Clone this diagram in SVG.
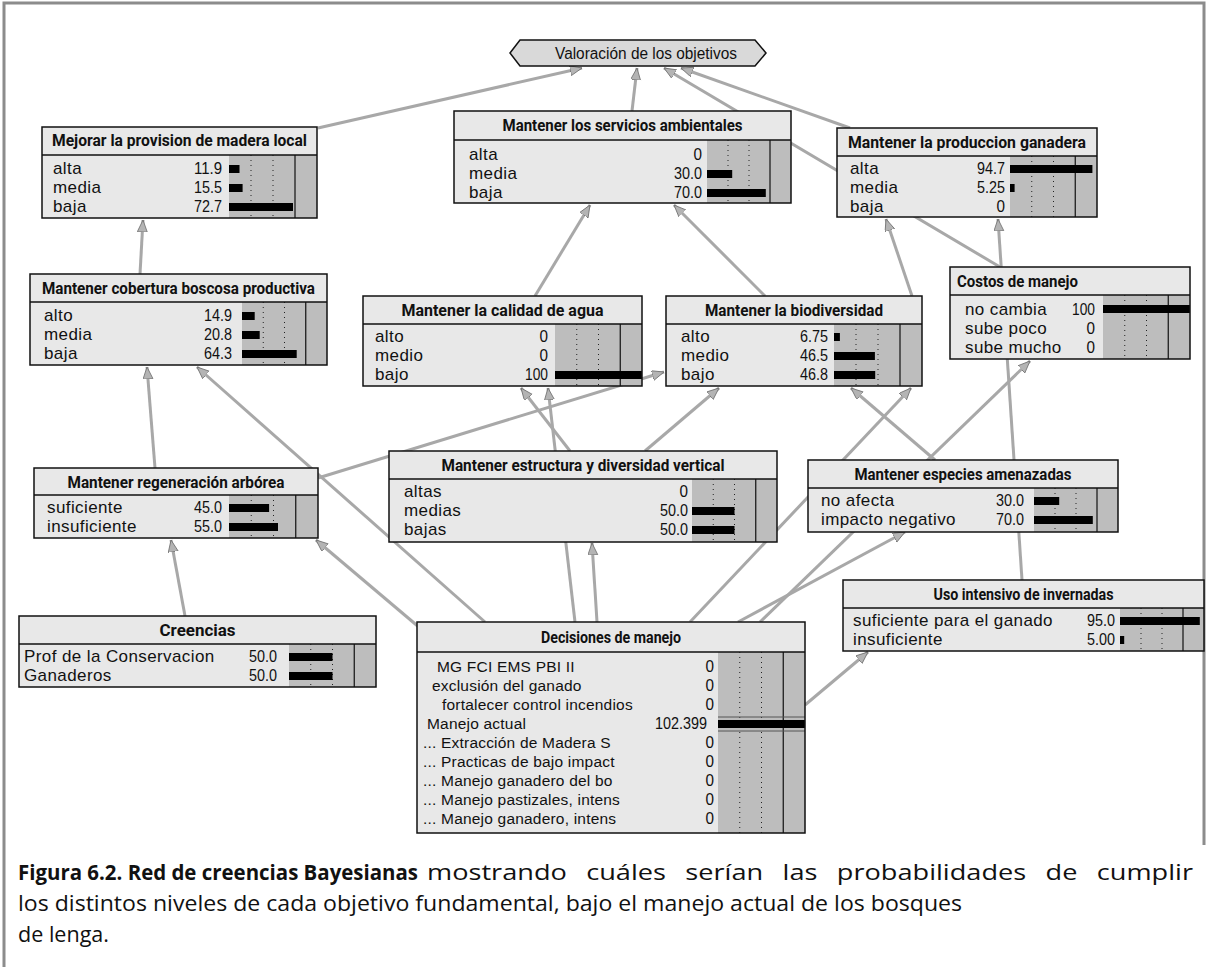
<svg xmlns="http://www.w3.org/2000/svg" width="1208" height="967" viewBox="0 0 1208 967">
<style>
  .frame{stroke:#8c8c8c;stroke-width:3;fill:none}
  .box{fill:#e8e8e8}
  .out{fill:none;stroke:#111;stroke-width:1.5}
  .tl{stroke:#111;stroke-width:1.5}
  .bg{fill:#bdbdbd}
  .dot{stroke:#222;stroke-width:1;stroke-dasharray:1 4}
  .sep{stroke:#111;stroke-width:1.2}
  .bar{fill:#000}
  .ttl{font-family:Roboto,"Liberation Sans",sans-serif;font-weight:bold;font-size:16px;text-anchor:middle;fill:#111}
  .lab{font-family:"Liberation Sans",Arial,sans-serif;font-size:17px;letter-spacing:0.4px;fill:#111}
  .lab2{font-family:"Liberation Sans",Arial,sans-serif;font-size:15.5px;letter-spacing:0.2px;fill:#111}
  .num{font-family:"Liberation Sans",sans-serif;font-size:17px;text-anchor:end;fill:#111}
  .edge{stroke:#a8a8a8;stroke-width:3;fill:none;marker-end:url(#ah)}
  .cap{font-family:"Open Sans","Noto Sans",sans-serif;font-size:22px;fill:#111}
</style>
<defs>
  <marker id="ah" markerUnits="userSpaceOnUse" markerWidth="14" markerHeight="12" refX="12" refY="5" orient="auto">
    <path d="M0,0 L12,5 L0,10 z" fill="#b4b4b4" stroke="#6e6e6e" stroke-width="0.8"/>
  </marker>
</defs>
<rect width="1208" height="967" fill="#fff"/>
<!-- outer frame -->
<path class="frame" d="M4,967 V3 H1204 V845"/>

<!-- connectors -->
<g id="connectors">
  <line class="edge" x1="318" y1="128" x2="582" y2="68"/>
  <line class="edge" x1="632" y1="111" x2="637" y2="68"/>
  <line class="edge" x1="850" y1="128" x2="681" y2="68"/>
  <line class="edge" x1="1000" y1="267" x2="664" y2="68"/>
  <line class="edge" x1="535" y1="296" x2="590" y2="205"/>
  <line class="edge" x1="765" y1="296" x2="674" y2="205"/>
  <line class="edge" x1="140" y1="274" x2="143" y2="220"/>
  <line class="edge" x1="1022" y1="580" x2="998" y2="219"/>
  <line class="edge" x1="912" y1="296" x2="886" y2="219"/>
  <line class="edge" x1="155" y1="468" x2="147" y2="367"/>
  <line class="edge" x1="485" y1="622" x2="197" y2="367"/>
  <line class="edge" x1="318" y1="478" x2="664" y2="372"/>
  <line class="edge" x1="185" y1="616" x2="171" y2="540"/>
  <line class="edge" x1="420" y1="628" x2="316" y2="540"/>
  <line class="edge" x1="570" y1="451" x2="521" y2="388"/>
  <line class="edge" x1="575" y1="622" x2="548" y2="388"/>
  <line class="edge" x1="597" y1="622" x2="592" y2="543"/>
  <line class="edge" x1="645" y1="451" x2="719" y2="388"/>
  <line class="edge" x1="690" y1="622" x2="911" y2="388"/>
  <line class="edge" x1="935" y1="460" x2="851" y2="388"/>
  <line class="edge" x1="760" y1="622" x2="1030" y2="361"/>
  <line class="edge" x1="738" y1="622" x2="905" y2="532"/>
  <line class="edge" x1="805" y1="705" x2="868" y2="652"/>
</g>

<!-- utility node -->
<g id="valoracion">
  <polygon points="510,53 520,40 755,40 766,53 755,66 520,66" fill="#d9d9d9" stroke="#111" stroke-width="1.5"/>
  <text x="646" y="59" font-family="Liberation Sans, sans-serif" font-size="16" text-anchor="middle" textLength="182" lengthAdjust="spacingAndGlyphs" fill="#111">Valoración de los objetivos</text>
</g>

<g id="mejorar" transform="translate(42,127)">
  <rect class="box" width="275" height="91"/>
  <rect class="bg" x="187" y="28" width="88" height="63"/>
  <line class="dot" x1="209" y1="28" x2="209" y2="91"/>
  <line class="dot" x1="231" y1="28" x2="231" y2="91"/>
  <line class="sep" x1="253" y1="28" x2="253" y2="91"/>
  <line class="tl" x1="0" y1="28" x2="275" y2="28"/>
  <text class="ttl" x="137.5" y="19" textLength="255" lengthAdjust="spacingAndGlyphs">Mejorar la provision de madera local</text>
  <text class="lab" x="11" y="47">alta</text>
  <text class="lab" x="11" y="66">media</text>
  <text class="lab" x="11" y="85">baja</text>
  <text class="num" x="180" y="47" textLength="28" lengthAdjust="spacingAndGlyphs">11.9</text>
  <text class="num" x="180" y="66" textLength="28" lengthAdjust="spacingAndGlyphs">15.5</text>
  <text class="num" x="180" y="85" textLength="28" lengthAdjust="spacingAndGlyphs">72.7</text>
  <rect class="bar" x="187" y="38" width="10.5" height="8"/>
  <rect class="bar" x="187" y="57" width="13.6" height="8"/>
  <rect class="bar" x="187" y="76" width="64" height="8"/>
  <rect class="out" width="275" height="91"/>
</g>

<g id="servicios" transform="translate(454,111)">
  <rect class="box" width="337" height="92"/>
  <rect class="bg" x="253" y="29" width="84" height="63"/>
  <line class="dot" x1="274" y1="29" x2="274" y2="92"/>
  <line class="dot" x1="295" y1="29" x2="295" y2="92"/>
  <line class="sep" x1="316" y1="29" x2="316" y2="92"/>
  <line class="tl" x1="0" y1="29" x2="337" y2="29"/>
  <text class="ttl" x="168.5" y="20" textLength="240" lengthAdjust="spacingAndGlyphs">Mantener los servicios ambientales</text>
  <text class="lab" x="15" y="49">alta</text>
  <text class="lab" x="15" y="68">media</text>
  <text class="lab" x="15" y="87">baja</text>
  <text class="num" x="248" y="49" textLength="8.5" lengthAdjust="spacingAndGlyphs">0</text>
  <text class="num" x="248" y="68" textLength="28" lengthAdjust="spacingAndGlyphs">30.0</text>
  <text class="num" x="248" y="87" textLength="28" lengthAdjust="spacingAndGlyphs">70.0</text>
  <rect class="bar" x="253" y="59" width="25.2" height="8"/>
  <rect class="bar" x="253" y="78" width="58.8" height="8"/>
  <rect class="out" width="337" height="92"/>
</g>

<g id="produccion" transform="translate(837,128)">
  <rect class="box" width="260" height="89"/>
  <rect class="bg" x="173" y="28" width="87" height="61"/>
  <line class="dot" x1="194.75" y1="28" x2="194.75" y2="89"/>
  <line class="dot" x1="216.5" y1="28" x2="216.5" y2="89"/>
  <line class="sep" x1="238.25" y1="28" x2="238.25" y2="89"/>
  <line class="tl" x1="0" y1="28" x2="260" y2="28"/>
  <text class="ttl" x="130" y="20" textLength="238" lengthAdjust="spacingAndGlyphs">Mantener la produccion ganadera</text>
  <text class="lab" x="13" y="46">alta</text>
  <text class="lab" x="13" y="65">media</text>
  <text class="lab" x="13" y="84">baja</text>
  <text class="num" x="168" y="46" textLength="28" lengthAdjust="spacingAndGlyphs">94.7</text>
  <text class="num" x="168" y="65" textLength="28" lengthAdjust="spacingAndGlyphs">5.25</text>
  <text class="num" x="168" y="84" textLength="8.5" lengthAdjust="spacingAndGlyphs">0</text>
  <rect class="bar" x="173" y="37" width="82.4" height="8"/>
  <rect class="bar" x="173" y="56" width="4.6" height="8"/>
  <rect class="out" width="260" height="89"/>
</g>

<g id="cobertura" transform="translate(30,274)">
  <rect class="box" width="297" height="91"/>
  <rect class="bg" x="212" y="28" width="85" height="63"/>
  <line class="dot" x1="233.25" y1="28" x2="233.25" y2="91"/>
  <line class="dot" x1="254.5" y1="28" x2="254.5" y2="91"/>
  <line class="sep" x1="275.75" y1="28" x2="275.75" y2="91"/>
  <line class="tl" x1="0" y1="28" x2="297" y2="28"/>
  <text class="ttl" x="148.5" y="20" textLength="273" lengthAdjust="spacingAndGlyphs">Mantener cobertura boscosa productiva</text>
  <text class="lab" x="14" y="47">alto</text>
  <text class="lab" x="14" y="66">media</text>
  <text class="lab" x="14" y="85">baja</text>
  <text class="num" x="202" y="47" textLength="28" lengthAdjust="spacingAndGlyphs">14.9</text>
  <text class="num" x="202" y="66" textLength="28" lengthAdjust="spacingAndGlyphs">20.8</text>
  <text class="num" x="202" y="85" textLength="28" lengthAdjust="spacingAndGlyphs">64.3</text>
  <rect class="bar" x="212" y="38" width="12.7" height="8"/>
  <rect class="bar" x="212" y="57" width="17.7" height="8"/>
  <rect class="bar" x="212" y="76" width="54.7" height="8"/>
  <rect class="out" width="297" height="91"/>
</g>

<g id="calidad" transform="translate(363,296)">
  <rect class="box" width="279" height="90"/>
  <rect class="bg" x="192" y="28" width="87" height="62"/>
  <line class="dot" x1="213.75" y1="28" x2="213.75" y2="90"/>
  <line class="dot" x1="235.5" y1="28" x2="235.5" y2="90"/>
  <line class="sep" x1="257.25" y1="28" x2="257.25" y2="90"/>
  <line class="tl" x1="0" y1="28" x2="279" y2="28"/>
  <text class="ttl" x="139.5" y="20" textLength="202" lengthAdjust="spacingAndGlyphs">Mantener la calidad de agua</text>
  <text class="lab" x="12" y="46">alto</text>
  <text class="lab" x="12" y="65">medio</text>
  <text class="lab" x="12" y="84">bajo</text>
  <text class="num" x="185" y="46" textLength="8.5" lengthAdjust="spacingAndGlyphs">0</text>
  <text class="num" x="185" y="65" textLength="8.5" lengthAdjust="spacingAndGlyphs">0</text>
  <text class="num" x="185" y="84" textLength="23" lengthAdjust="spacingAndGlyphs">100</text>
  <rect class="bar" x="192" y="75" width="87" height="8"/>
  <rect class="out" width="279" height="90"/>
</g>

<g id="biodiversidad" transform="translate(666,296)">
  <rect class="box" width="256" height="90"/>
  <rect class="bg" x="168" y="28" width="88" height="62"/>
  <line class="dot" x1="190" y1="28" x2="190" y2="90"/>
  <line class="dot" x1="212" y1="28" x2="212" y2="90"/>
  <line class="sep" x1="234" y1="28" x2="234" y2="90"/>
  <line class="tl" x1="0" y1="28" x2="256" y2="28"/>
  <text class="ttl" x="128" y="20" textLength="178" lengthAdjust="spacingAndGlyphs">Mantener la biodiversidad</text>
  <text class="lab" x="15" y="46">alto</text>
  <text class="lab" x="15" y="65">medio</text>
  <text class="lab" x="15" y="84">bajo</text>
  <text class="num" x="162" y="46" textLength="28" lengthAdjust="spacingAndGlyphs">6.75</text>
  <text class="num" x="162" y="65" textLength="28" lengthAdjust="spacingAndGlyphs">46.5</text>
  <text class="num" x="162" y="84" textLength="28" lengthAdjust="spacingAndGlyphs">46.8</text>
  <rect class="bar" x="168" y="37" width="5.9" height="8"/>
  <rect class="bar" x="168" y="56" width="40.9" height="8"/>
  <rect class="bar" x="168" y="75" width="41.2" height="8"/>
  <rect class="out" width="256" height="90"/>
</g>

<g id="costos" transform="translate(950,267)">
  <rect class="box" width="240" height="92"/>
  <rect class="bg" x="153" y="28" width="87" height="64"/>
  <line class="dot" x1="174.75" y1="28" x2="174.75" y2="92"/>
  <line class="dot" x1="196.5" y1="28" x2="196.5" y2="92"/>
  <line class="sep" x1="218.25" y1="28" x2="218.25" y2="92"/>
  <line class="tl" x1="0" y1="28" x2="240" y2="28"/>
  <text class="ttl" x="7" y="20" style="text-anchor:start" textLength="121" lengthAdjust="spacingAndGlyphs">Costos de manejo</text>
  <text class="lab" x="15" y="48">no cambia</text>
  <text class="lab" x="15" y="67">sube poco</text>
  <text class="lab" x="15" y="86">sube mucho</text>
  <text class="num" x="145" y="48" textLength="23" lengthAdjust="spacingAndGlyphs">100</text>
  <text class="num" x="145" y="67" textLength="8.5" lengthAdjust="spacingAndGlyphs">0</text>
  <text class="num" x="145" y="86" textLength="8.5" lengthAdjust="spacingAndGlyphs">0</text>
  <rect class="bar" x="153" y="38" width="87" height="8"/>
  <rect class="out" width="240" height="92"/>
</g>

<g id="regeneracion" transform="translate(34,468)">
  <rect class="box" width="284" height="70"/>
  <rect class="bg" x="195" y="27" width="89" height="43"/>
  <line class="dot" x1="217.25" y1="27" x2="217.25" y2="70"/>
  <line class="dot" x1="239.5" y1="27" x2="239.5" y2="70"/>
  <line class="sep" x1="261.75" y1="27" x2="261.75" y2="70"/>
  <line class="tl" x1="0" y1="27" x2="284" y2="27"/>
  <text class="ttl" x="142" y="20" textLength="217" lengthAdjust="spacingAndGlyphs">Mantener regeneración arbórea</text>
  <text class="lab" x="13" y="45">suficiente</text>
  <text class="lab" x="13" y="64">insuficiente</text>
  <text class="num" x="188" y="45" textLength="28" lengthAdjust="spacingAndGlyphs">45.0</text>
  <text class="num" x="188" y="64" textLength="28" lengthAdjust="spacingAndGlyphs">55.0</text>
  <rect class="bar" x="195" y="36" width="40.1" height="8"/>
  <rect class="bar" x="195" y="55" width="49" height="8"/>
  <rect class="out" width="284" height="70"/>
</g>

<g id="estructura" transform="translate(389,451)">
  <rect class="box" width="388" height="91"/>
  <rect class="bg" x="303" y="28" width="85" height="63"/>
  <line class="dot" x1="324.25" y1="28" x2="324.25" y2="91"/>
  <line class="dot" x1="345.5" y1="28" x2="345.5" y2="91"/>
  <line class="sep" x1="366.75" y1="28" x2="366.75" y2="91"/>
  <line class="tl" x1="0" y1="28" x2="388" y2="28"/>
  <text class="ttl" x="194" y="20" textLength="283" lengthAdjust="spacingAndGlyphs">Mantener estructura y diversidad vertical</text>
  <text class="lab" x="15" y="46">altas</text>
  <text class="lab" x="15" y="65">medias</text>
  <text class="lab" x="15" y="84">bajas</text>
  <text class="num" x="299" y="46" textLength="8.5" lengthAdjust="spacingAndGlyphs">0</text>
  <text class="num" x="299" y="65" textLength="28" lengthAdjust="spacingAndGlyphs">50.0</text>
  <text class="num" x="299" y="84" textLength="28" lengthAdjust="spacingAndGlyphs">50.0</text>
  <rect class="bar" x="303" y="56" width="42.5" height="8"/>
  <rect class="bar" x="303" y="75" width="42.5" height="8"/>
  <rect class="out" width="388" height="91"/>
</g>

<g id="especies" transform="translate(808,460)">
  <rect class="box" width="310" height="72"/>
  <rect class="bg" x="226" y="28" width="84" height="44"/>
  <line class="dot" x1="247" y1="28" x2="247" y2="72"/>
  <line class="dot" x1="268" y1="28" x2="268" y2="72"/>
  <line class="sep" x1="289" y1="28" x2="289" y2="72"/>
  <line class="tl" x1="0" y1="28" x2="310" y2="28"/>
  <text class="ttl" x="155" y="20" textLength="217" lengthAdjust="spacingAndGlyphs">Mantener especies amenazadas</text>
  <text class="lab" x="13" y="46">no afecta</text>
  <text class="lab" x="13" y="65">impacto negativo</text>
  <text class="num" x="216" y="46" textLength="28" lengthAdjust="spacingAndGlyphs">30.0</text>
  <text class="num" x="216" y="65" textLength="28" lengthAdjust="spacingAndGlyphs">70.0</text>
  <rect class="bar" x="226" y="37" width="25.2" height="8"/>
  <rect class="bar" x="226" y="56" width="58.8" height="8"/>
  <rect class="out" width="310" height="72"/>
</g>

<g id="creencias" transform="translate(19,616)">
  <rect class="box" width="357" height="71"/>
  <rect class="bg" x="270" y="28" width="87" height="43"/>
  <line class="dot" x1="291.75" y1="28" x2="291.75" y2="71"/>
  <line class="dot" x1="313.5" y1="28" x2="313.5" y2="71"/>
  <line class="sep" x1="335.25" y1="28" x2="335.25" y2="71"/>
  <line class="tl" x1="0" y1="28" x2="357" y2="28"/>
  <text class="ttl" x="178.5" y="20" textLength="76" lengthAdjust="spacingAndGlyphs">Creencias</text>
  <text class="lab" x="5" y="46">Prof de la Conservacion</text>
  <text class="lab" x="5" y="65">Ganaderos</text>
  <text class="num" x="258" y="46" textLength="28" lengthAdjust="spacingAndGlyphs">50.0</text>
  <text class="num" x="258" y="65" textLength="28" lengthAdjust="spacingAndGlyphs">50.0</text>
  <rect class="bar" x="270" y="37" width="43.5" height="8"/>
  <rect class="bar" x="270" y="56" width="43.5" height="8"/>
  <rect class="out" width="357" height="71"/>
</g>

<g id="uso-intensivo" transform="translate(843,580)">
  <rect class="box" width="361" height="71"/>
  <rect class="bg" x="277" y="28" width="84" height="43"/>
  <line class="dot" x1="298" y1="28" x2="298" y2="71"/>
  <line class="dot" x1="319" y1="28" x2="319" y2="71"/>
  <line class="sep" x1="340" y1="28" x2="340" y2="71"/>
  <line class="tl" x1="0" y1="28" x2="361" y2="28"/>
  <text class="ttl" x="180.5" y="20" textLength="180" lengthAdjust="spacingAndGlyphs">Uso intensivo de invernadas</text>
  <text class="lab" x="10" y="46">suficiente para el ganado</text>
  <text class="lab" x="10" y="65">insuficiente</text>
  <text class="num" x="272" y="46" textLength="28" lengthAdjust="spacingAndGlyphs">95.0</text>
  <text class="num" x="272" y="65" textLength="28" lengthAdjust="spacingAndGlyphs">5.00</text>
  <rect class="bar" x="277" y="37" width="79.8" height="8"/>
  <rect class="bar" x="277" y="56" width="4.2" height="8"/>
  <rect class="out" width="361" height="71"/>
</g>

<g id="decisiones" transform="translate(417,622)">
  <rect class="box" width="388" height="211"/>
  <rect class="bg" x="301" y="30" width="87" height="181"/>
  <line class="dot" x1="322.75" y1="30" x2="322.75" y2="211"/>
  <line class="dot" x1="344.5" y1="30" x2="344.5" y2="211"/>
  <line class="sep" x1="366.25" y1="30" x2="366.25" y2="211"/>
  <line class="tl" x1="0" y1="30" x2="388" y2="30"/>
  <text class="ttl" x="194" y="21" textLength="140" lengthAdjust="spacingAndGlyphs">Decisiones de manejo</text>
  <text class="lab2" x="20" y="50">MG FCI EMS PBI II</text>
  <text class="lab2" x="15" y="69">exclusión del ganado</text>
  <text class="lab2" x="25" y="88">fortalecer control incendios</text>
  <text class="lab2" x="10" y="107">Manejo actual</text>
  <text class="lab2" x="6" y="126">... Extracción de Madera S</text>
  <text class="lab2" x="6" y="145">... Practicas de bajo impact</text>
  <text class="lab2" x="6" y="164">... Manejo ganadero del bo</text>
  <text class="lab2" x="6" y="183">... Manejo pastizales, intens</text>
  <text class="lab2" x="6" y="202">... Manejo ganadero, intens</text>
  <text class="num" x="297" y="50" textLength="8.5" lengthAdjust="spacingAndGlyphs">0</text>
  <text class="num" x="297" y="69" textLength="8.5" lengthAdjust="spacingAndGlyphs">0</text>
  <text class="num" x="297" y="88" textLength="8.5" lengthAdjust="spacingAndGlyphs">0</text>
  <text class="num" x="290" y="107" textLength="52" lengthAdjust="spacingAndGlyphs">102.399</text>
  <text class="num" x="297" y="126" textLength="8.5" lengthAdjust="spacingAndGlyphs">0</text>
  <text class="num" x="297" y="145" textLength="8.5" lengthAdjust="spacingAndGlyphs">0</text>
  <text class="num" x="297" y="164" textLength="8.5" lengthAdjust="spacingAndGlyphs">0</text>
  <text class="num" x="297" y="183" textLength="8.5" lengthAdjust="spacingAndGlyphs">0</text>
  <text class="num" x="297" y="202" textLength="8.5" lengthAdjust="spacingAndGlyphs">0</text>
  <line x1="301" y1="95" x2="388" y2="95" stroke="#555" stroke-width="1"/>
  <line x1="301" y1="109" x2="388" y2="109" stroke="#555" stroke-width="1"/>
  <rect class="bar" x="301" y="98" width="87" height="8"/>
  <rect class="out" width="388" height="211"/>
</g>

<!-- figure caption -->
<g id="caption">
  <text class="cap" x="18" y="880" font-weight="bold" textLength="400" lengthAdjust="spacingAndGlyphs">Figura 6.2. Red de creencias Bayesianas</text>
  <text class="cap" x="427" y="880" font-size="23" word-spacing="10" textLength="766" lengthAdjust="spacingAndGlyphs">mostrando cuáles serían las probabilidades de cumplir</text>
  <text class="cap" x="18" y="911" textLength="944" lengthAdjust="spacingAndGlyphs">los distintos niveles de cada objetivo fundamental, bajo el manejo actual de los bosques</text>
  <text class="cap" x="18" y="942" textLength="91" lengthAdjust="spacingAndGlyphs">de lenga.</text>
</g>
</svg>
